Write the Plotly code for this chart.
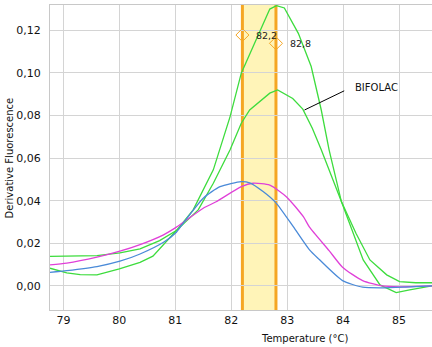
import plotly.graph_objects as go

# ---- data ----
g1_t = [78.76, 79.06, 79.3, 79.6, 80.0, 80.37, 80.6, 80.79, 81.02, 81.32, 81.68, 81.98,
        82.18, 82.39, 82.69, 82.81, 82.95, 83.2, 83.43, 83.61, 83.75, 83.97, 84.18,
        84.36, 84.66, 84.95, 85.19, 85.59]
g1_v = [0.0083, 0.0061, 0.0053, 0.0052, 0.0080, 0.0111, 0.0140, 0.0194, 0.0260, 0.0357,
        0.0545, 0.0795, 0.0999, 0.1123, 0.1300, 0.1316, 0.1305, 0.1186, 0.1030, 0.0826,
        0.0639, 0.0396, 0.0247, 0.0122, 0.0005, -0.0031, -0.0019, 0.0000]

g2_t = [78.76, 79.6, 80.01, 80.37, 80.72, 81.02, 81.41, 81.68, 81.98, 82.18, 82.33, 82.69,
        82.83, 83.1, 83.28, 83.45, 83.61, 83.97, 84.23, 84.48, 84.78, 85.01, 85.3, 85.59]
g2_v = [0.0139, 0.0142, 0.0155, 0.0174, 0.0213, 0.0260, 0.0357, 0.0482, 0.0639, 0.0764,
        0.0826, 0.0905, 0.0920, 0.0880, 0.0830, 0.0740, 0.0639, 0.0396, 0.0247, 0.0122,
        0.0052, 0.0020, 0.0015, 0.0015]

blue_t = [78.76, 79.06, 79.6, 80.01, 80.37, 80.79, 81.02, 81.14, 81.5, 81.8, 82.18, 82.33,
          82.57, 82.8, 83.11, 83.4, 83.57, 83.99, 84.35, 84.7, 85.2, 85.59]
blue_v = [0.0064, 0.0072, 0.0091, 0.0116, 0.0150, 0.0205, 0.0252, 0.0294, 0.0412, 0.0466,
          0.0490, 0.0484, 0.0443, 0.0390, 0.0278, 0.0169, 0.0125, 0.0025, -0.0006, -0.0009,
          -0.0004, 0.0000]

mag_t = [78.76, 79.06, 79.6, 80.01, 80.37, 80.79, 81.02, 81.5, 81.73, 82.18, 82.39, 82.69,
         82.99, 83.29, 83.4, 83.75, 83.99, 84.35, 84.7, 85.0, 85.59]
mag_v = [0.0099, 0.0107, 0.0135, 0.0163, 0.0194, 0.0240, 0.0276, 0.0365, 0.0395, 0.0466,
         0.0482, 0.0473, 0.0418, 0.0325, 0.0276, 0.0166, 0.0088, 0.0025, 0.0000, -0.0004,
         0.0000]

marker_t = [82.2, 82.8]
marker_v = [0.1178, 0.1139]
marker_labels = ["82,2", "82,8"]

x_ticks = [79, 80, 81, 82, 83, 84, 85]
y_ticks = [0.00, 0.02, 0.04, 0.06, 0.08, 0.10, 0.12]

GREEN = "#3ddc3d"
BLUE = "#4a8ad8"
MAGENTA = "#e040d8"
ORANGE = "#f5a623"
FONT = "DejaVu Sans"

fig = go.Figure()
fig.add_trace(go.Scatter(x=g2_t, y=g2_v, mode="lines", line=dict(color=GREEN, width=1.3)))
fig.add_trace(go.Scatter(x=g1_t, y=g1_v, mode="lines", line=dict(color=GREEN, width=1.3)))
fig.add_trace(go.Scatter(x=mag_t, y=mag_v, mode="lines",
                         line=dict(color=MAGENTA, width=1.3, shape="spline", smoothing=0.6)))
fig.add_trace(go.Scatter(x=blue_t, y=blue_v, mode="lines",
                         line=dict(color=BLUE, width=1.3, shape="spline", smoothing=0.6)))
fig.add_trace(go.Scatter(x=marker_t, y=marker_v, mode="markers",
                         marker=dict(symbol="diamond-open", color=ORANGE, size=10,
                                     line=dict(width=1))))
for t, v, s in zip(marker_t, marker_v, marker_labels):
    fig.add_annotation(x=t, y=v, xref="x", yref="y", text=s, showarrow=False,
                       xanchor="left", yanchor="middle", xshift=12,
                       font=dict(family=FONT, size=9.5, color="#222"))

# highlight band and vertical lines
fig.add_shape(type="rect", xref="x", yref="paper", x0=marker_t[0], x1=marker_t[1], y0=0, y1=1,
              fillcolor="#fff4b8", line=dict(width=0), layer="between")
for t in marker_t:
    fig.add_shape(type="line", xref="x", yref="paper", x0=t, x1=t, y0=0, y1=1,
                  line=dict(color=ORANGE, width=3), layer="between")

# BIFOLAC label with leader line
fig.add_shape(type="line", xref="x", yref="y", x0=83.31, y0=0.0826, x1=84.02, y1=0.0916,
              line=dict(color="black", width=1))
fig.add_annotation(x=84.17, y=0.0934, xref="x", yref="y", text="BIFOLAC", showarrow=False,
                   xanchor="left", yanchor="middle", font=dict(family=FONT, size=10, color="#111"))

# axis titles
fig.add_annotation(x=0.665, y=-0.092, xref="paper", yref="paper", text="Temperature (°C)",
                   showarrow=False, xanchor="center", yanchor="middle",
                   font=dict(family=FONT, size=10, color="#111"))
fig.add_annotation(x=-0.105, y=0.5, xref="paper", yref="paper", text="Derivative Fluorescence",
                   showarrow=False, textangle=-90, xanchor="center", yanchor="middle",
                   font=dict(family=FONT, size=10, color="#111"))

fig.update_layout(
    width=432, height=347,
    margin=dict(l=50, r=0, t=5, b=37),
    paper_bgcolor="white", plot_bgcolor="white",
    showlegend=False,
    separators=",.",
    font=dict(family=FONT, size=11, color="#111"),
    xaxis=dict(range=[78.76, 85.59], tickvals=x_ticks, ticktext=[str(v) for v in x_ticks],
               showgrid=True, gridcolor="#d4d4d4", gridwidth=1, zeroline=False,
               showline=True, linecolor="#c8c8c8", mirror=True, ticks="",
               tickfont=dict(family=FONT, size=11)),
    yaxis=dict(range=[-0.0113, 0.1319], tickvals=y_ticks, tickformat=".2f",
               showgrid=True, gridcolor="#d4d4d4", gridwidth=1, zeroline=False,
               showline=True, linecolor="#c8c8c8", ticks="", ticklabelstandoff=6,
               tickfont=dict(family=FONT, size=11)),
)

fig.write_html("out.html")
